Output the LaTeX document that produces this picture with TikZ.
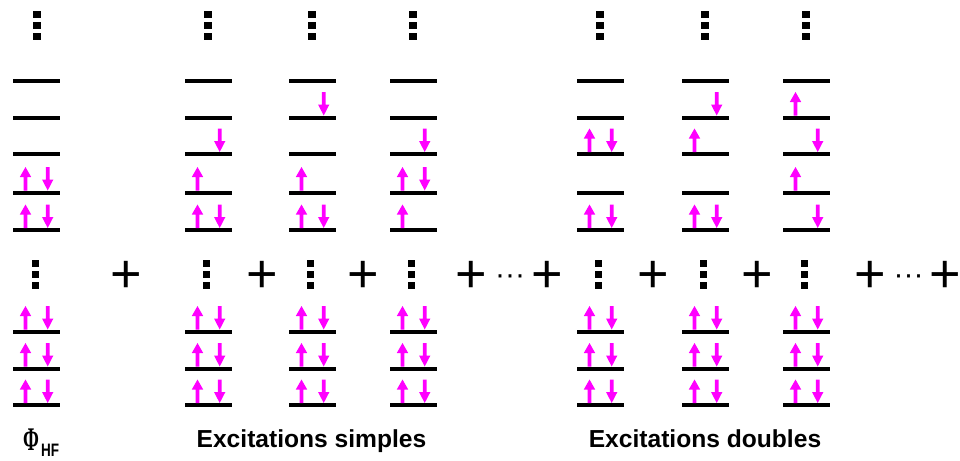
\documentclass[tikz,border=0pt]{standalone}
\usepackage{fontspec}
\newfontfamily\lsans{Liberation Sans}
\newfontfamily\lserif{Liberation Serif}
\definecolor{spinmag}{RGB}{255,0,255}
\tikzset{
  level/.style={line width=4pt, black, line cap=butt},
  spinfill/.style={fill=spinmag, draw=none},
  sq/.style={fill=black, draw=none},
  plusnode/.style={inner sep=0pt, anchor=base, font=\lsans\fontsize{54}{60}\selectfont},
  ellnode/.style={inner sep=0pt, anchor=base, font=\lsans\fontsize{30}{34}\selectfont},
  lbl/.style={inner sep=0pt, anchor=base, font=\lsans\bfseries\fontsize{24.6}{28}\selectfont},
  spinup/.pic={\fill[spinfill] (-1.8,0) -- (-1.8,-13.5) -- (-5.7,-13.5) -- (0,-23.5) -- (5.7,-13.5) -- (1.8,-13.5) -- (1.8,0) -- cycle;},
  spindown/.pic={\fill[spinfill] (-1.8,-23.5) -- (-1.8,-11) -- (-5.7,-11) -- (0,0) -- (5.7,-11) -- (1.8,-11) -- (1.8,-23.5) -- cycle;},
  vdots/.pic={\fill[sq] (-3.6,-14.6) rectangle (3.6,-7.4);
              \fill[sq] (-3.6,-3.6) rectangle (3.6,3.6);
              \fill[sq] (-3.6,7.4) rectangle (3.6,14.6);}
}
\newcommand\myspins[3]{%
  \ifcase#3\relax
  \or \pic at (#1+12.5,#2-2) {spinup};
  \or \pic at (#1+34.7,#2-2) {spindown};
  \or \pic at (#1+12.5,#2-2) {spinup}; \pic at (#1+34.7,#2-2) {spindown};
  \fi}
\begin{document}
\begin{tikzpicture}[x=1pt,y=-1pt]
\useasboundingbox (0,0) rectangle (960,460);
% columns: left / codes for levels at 230,192.5,154,117.5 / centre
\foreach \lx/\ca/\cb/\cc/\cd/\cx in {13/3/3/0/0/37, 185/3/1/2/0/208, 289/3/1/0/2/312, 390/1/3/2/0/413, 577/3/0/3/0/600, 682/3/0/1/2/705, 783/2/1/2/1/806}{
  \pic at (\cx,25.5) {vdots};
  \foreach \ly in {81,117.5,154,192.5,230}{
    \draw[level] (\lx,\ly) -- +(47,0);
  }
  \myspins{\lx}{230}{\ca}
  \myspins{\lx}{192.5}{\cb}
  \myspins{\lx}{154}{\cc}
  \myspins{\lx}{117.5}{\cd}
  \pic at (\cx-1.5,274.5) {vdots};
  \foreach \ly in {331.5,368.5,405}{
    \draw[level] (\lx,\ly) -- +(47,0);
    \myspins{\lx}{\ly}{3}
  }
}
% plus signs and ellipses
\node[plusnode] (p1) at (126,292) {\makebox[0pt]{+}};
\node[plusnode] (p2) at (262,292) {\makebox[0pt]{+}};
\node[plusnode] (p3) at (363,292) {\makebox[0pt]{+}};
\node[plusnode] (p4) at (471.5,292) {\makebox[0pt]{+}};
\node[ellnode] (e1) at (510,284) {···};
\node[plusnode] (p5) at (547,292) {\makebox[0pt]{+}};
\node[plusnode] (p6) at (653,292) {\makebox[0pt]{+}};
\node[plusnode] (p7) at (757,292) {\makebox[0pt]{+}};
\node[plusnode] (p8) at (870.5,292) {\makebox[0pt]{+}};
\node[ellnode] (e2) at (908.5,284) {···};
\node[plusnode] (p9) at (945,292) {\makebox[0pt]{+}};
% labels
\node[inner sep=0pt, anchor=base, xscale=0.58, font=\lserif\bfseries\fontsize{33}{38}\selectfont] (phi) at (31,450) {Φ};
\node[inner sep=0pt, anchor=base west, xscale=0.75, font=\lsans\bfseries\fontsize{18}{22}\selectfont] (hf) at (41,456) {HF};
\node[lbl] (simples) at (311.5,447.5) {Excitations simples};
\node[lbl] (doubles) at (705,447.5) {Excitations doubles};
\end{tikzpicture}
\end{document}
